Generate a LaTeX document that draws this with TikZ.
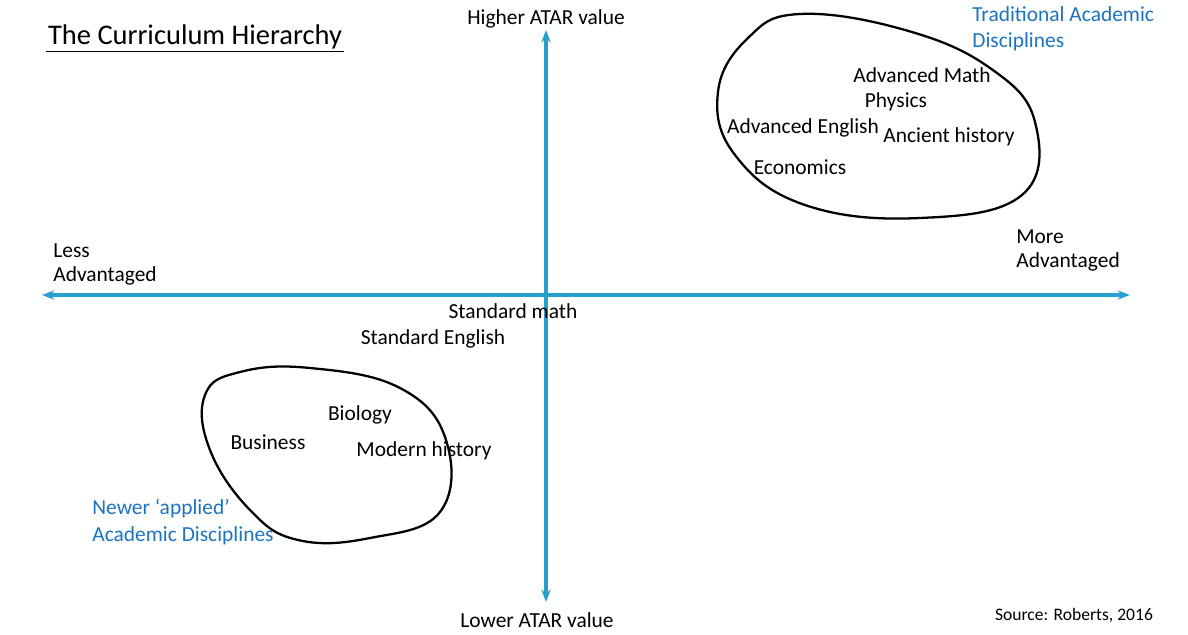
\documentclass[tikz,border=0pt]{standalone}
\usepackage{fontspec}
\setmainfont{Carlito}
\usetikzlibrary{arrows.meta}
\definecolor{axisblue}{RGB}{40,160,205}
\definecolor{labelblue}{RGB}{30,115,190}

\begin{document}
\begin{tikzpicture}[x=0.02cm,y=-0.02cm,
	axis/.style={draw=axisblue,line width=1.8pt,{Stealth[length=7pt]}-{Stealth[length=7pt]}},
	blob/.style={draw=black,line width=1.3pt},
	subj/.style={font=\fontsize{12.2}{14}\selectfont,inner sep=0pt},
	group/.style={font=\fontsize{12.2}{15}\selectfont,text=labelblue,align=left,inner sep=0pt,anchor=north west}]
	\useasboundingbox (0,0) rectangle (1188,635);
	%
	\node (title) [anchor=west,font=\fontsize{16.2}{19}\selectfont,inner sep=1pt] at (46,37) {The Curriculum Hierarchy};
	\draw [line width=0.8pt] (title.south west) -- (title.south east);
	%
	\coordinate (left) at (42,295);
	\coordinate (right) at (1130,295);
	\coordinate (top) at (546,30);
	\coordinate (bottom) at (546,602);
	\draw [axis] (left) -- (right);
	\draw [axis] (bottom) -- (top);
	%
	\node [subj] (higher) at (546,19) {Higher ATAR value};
	\node [subj] (lower) at (537,620) {Lower ATAR value};
	\node [subj,anchor=north west,align=left] (less) at (53,243) {Less\\Advantaged};
	\node [subj,anchor=north west,align=left] (more) at (1016,229) {More\\Advantaged};
	\node [font=\fontsize{10}{12}\selectfont,inner sep=0pt] (source) at (1074,616) {Source: Roberts, 2016};
	%
	\draw [blob] plot [smooth cycle,tension=0.7] coordinates {(800,14) (905,30) (990,68) (1035,122) (1022,195) (920,218) (805,205) (735,155) (718,92) (748,38)};
	\draw [blob] plot [smooth cycle,tension=0.7] coordinates {(310,368) (400,388) (446,440) (440,512) (370,538) (298,540) (250,510) (210,450) (205,395) (240,372)};
	%
	\node [subj] (advmath) at (922,75) {Advanced Math};
	\node [subj] (physics) at (896,102) {Physics};
	\node [subj] (adveng) at (803,128) {Advanced English};
	\node [subj] (ancient) at (949,137) {Ancient history};
	\node [subj] (econ) at (800,167) {Economics};
	\node [subj] (stdmath) at (513,311) {Standard math};
	\node [subj] (stdeng) at (433,339) {Standard English};
	\node [subj] (biology) at (360,415) {Biology};
	\node [subj] (business) at (268,442) {Business};
	\node [subj] (modern) at (424,451) {Modern history};
	%
	\node [group] (trad) at (972,6) {Traditional Academic\\Disciplines};
	\node [group] (newer) at (92,499) {Newer ‘applied’\\Academic Disciplines};
\end{tikzpicture}
\end{document}
